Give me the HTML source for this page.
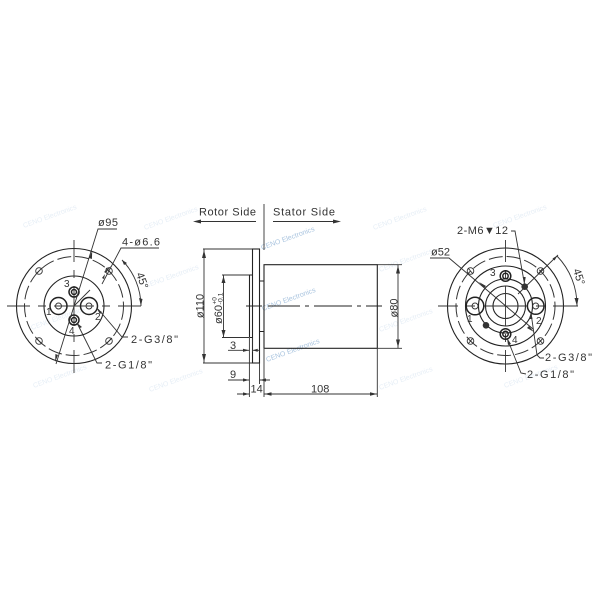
<!DOCTYPE html>
<html><head><meta charset="utf-8"><style>
html,body{margin:0;padding:0;background:#fff}
svg{display:block;filter:blur(.35px)}
.l{fill:none;stroke:#333;stroke-width:.9}
.k{fill:none;stroke:#222;stroke-width:1.1}
.p{fill:none;stroke:#222;stroke-width:1.5}
.d{fill:none;stroke:#333;stroke-width:1;stroke-dasharray:14 4}
.a{fill:#333;stroke:none}
text{font-family:"Liberation Sans",sans-serif;fill:#333}
.t{font-size:11px}
.n{font-size:10px}
.w{font-size:7px;fill:#e6eef6}
.b{font-size:7px;fill:#a9c4df}
</style></head><body>
<svg width="600" height="600" viewBox="0 0 600 600" xmlns="http://www.w3.org/2000/svg">
<!-- watermarks -->
<g>
<text class="w" transform="translate(24,228) rotate(-20)">CENO Electronics</text>
<text class="w" transform="translate(145,230) rotate(-20)">CENO Electronics</text>
<text class="w" transform="translate(146,288) rotate(-20)">CENO Electronics</text>
<text class="w" transform="translate(32,330) rotate(-20)">CENO Electronics</text>
<text class="w" transform="translate(150,392) rotate(-20)">CENO Electronics</text>
<text class="w" transform="translate(34,388) rotate(-20)">CENO Electronics</text>
<text class="w" transform="translate(374,230) rotate(-20)">CENO Electronics</text>
<text class="w" transform="translate(494,228) rotate(-20)">CENO Electronics</text>
<text class="w" transform="translate(380,272) rotate(-20)">CENO Electronics</text>
<text class="w" transform="translate(380,332) rotate(-20)">CENO Electronics</text>
<text class="w" transform="translate(380,390) rotate(-20)">CENO Electronics</text>
<text class="w" transform="translate(505,388) rotate(-20)">CENO Electronics</text>
<text class="b" transform="translate(262,250) rotate(-20)">CENO Electronics</text>
<text class="b" transform="translate(263,311) rotate(-20)">CENO Electronics</text>
<text class="b" transform="translate(267,362) rotate(-20)">CENO Electronics</text>
</g>

<!-- LEFT VIEW -->
<g>
<circle class="k" cx="74" cy="306" r="57.5"/>
<circle class="d" cx="74" cy="306" r="49.5"/>
<circle class="k" cx="74" cy="306" r="30"/>
<path class="l" d="M7 306H30M38 306H46M54 306H94M102 306H110M118 306H141M74 240V262M74 270V278M74 286V326M74 334V342M74 350V373"/>
<g class="l">
<circle cx="39" cy="271" r="3.3"/><circle cx="109" cy="271" r="3.3"/><circle cx="39" cy="341" r="3.3"/><circle cx="109" cy="341" r="3.3"/>
<path d="M36 274L42 268M106 268L112 274M36 338L42 344M106 344L112 338"/>
</g>
<g class="p">
<circle cx="58.500" cy="306" r="8.500"/>
<circle cx="89" cy="306" r="8.500"/>
<circle cx="74" cy="292" r="5"/><circle cx="74" cy="292" r="2.500"/>
<circle cx="74" cy="320" r="5"/><circle cx="74" cy="320" r="2.500"/>
</g>
<g class="l"><circle cx="58.500" cy="306" r="3"/><circle cx="89" cy="306" r="3"/></g>
<!-- leaders -->
<path class="l" d="M117 229H98L56 364M159 248H121L102 284M98 309L122 337H128M77 323L97 363H102M74 306L90 290"/>
<path class="l" d="M122 260A67 67 0 0 1 141 306"/>
<path class="a" d="M89 258l3.200-7-.3 8zM58 355l-2.800 7 .2-8zM141 306l-2-8 3.500 1zM122 260l5 3-3 2zM111 266l-5 7-2-1zM105 274l-1 5-2-1zM97 309l5 3-2 2zM77 323l5 4-2 1z"/>
<text class="t" x="98" y="226" textLength="20" lengthAdjust="spacing">ø95</text>
<text class="t" x="122" y="245.500" textLength="38" lengthAdjust="spacing">4-ø6.6</text>
<text class="t" x="131" y="343" textLength="47" lengthAdjust="spacing">2-G3/8"</text>
<text class="t" x="105" y="368.500" textLength="47" lengthAdjust="spacing">2-G1/8"</text>
<text class="t" transform="translate(136,274) rotate(70)">45°</text>
<text class="n" x="64" y="287">3</text>
<text class="n" x="46" y="315">1</text>
<text class="n" x="95" y="320">2</text>
<text class="n" x="69" y="334">4</text>
</g>

<!-- MIDDLE VIEW -->
<g>
<text class="t" x="199" y="215.500" textLength="57" lengthAdjust="spacing">Rotor Side</text>
<text class="t" x="273" y="215.500" textLength="62" lengthAdjust="spacing">Stator Side</text>
<path class="l" d="M200 221.500H256M273 221.500H334"/>
<path class="a" d="M193 221.500l8-2v4zM341 221.500l-8-2v4z"/>
<path class="l" d="M264 204V250"/>
<rect class="k" x="252.500" y="249" width="7" height="114"/>
<rect class="k" x="264" y="264.700" width="113.300" height="83.600"/>
<path class="k" d="M249.500 337.500V275H252.500M249.500 337.500H252.500M259.500 281H264M259.500 331.500H264"/>
<path class="k" d="M246 306H262M268 306H300M305 306H309M314 306H352M357 306H361M366 306H382" stroke-width=".9"/>
<!-- dims -->
<path class="l" d="M203 249H252M203 363H252M204 249V363M222 275H249M222 337.500H249M223.500 275V337.500M377 264.700H402M377 348.300H402M398 264.700V348.300"/>
<path class="l" d="M249.400 338V397M252.500 338V352M259.500 363V384M264 349V397M377.300 349V397"/>
<path class="l" d="M228 350.300H249M252.500 350.300H260M228 380H249M259.500 380H270M237 394H249M264 394H377"/>
<path class="a" d="M204 250l-2 8h4zM204 362l-2-8h4zM223.500 276l-2 7h4zM223.500 337l-2-7h4zM398 265.500l-2 8h4zM398 347.500l-2-8h4zM249 350.300l-6-1.600v3.200zM252.700 350.300l5-1.600v3.200zM249 380l-6-1.600v3.200zM260 380l6-1.600v3.200zM249 394l-6-1.600v3.200zM264.500 394l7-1.800v3.600zM377 394l-7-1.800v3.600z"/>
<text class="t" text-anchor="middle" transform="translate(203.500,306) rotate(-90)">ø110</text>
<text class="t" transform="translate(222,324) rotate(-90)" textLength="19" lengthAdjust="spacingAndGlyphs">ø60</text>
<text font-size="6.500" transform="translate(216.500,304.500) rotate(-90)">+0</text>
<text font-size="6.500" transform="translate(222.500,304.500) rotate(-90)" textLength="12" lengthAdjust="spacingAndGlyphs">-0.1</text>
<text class="t" text-anchor="middle" transform="translate(397.500,308) rotate(-90)">ø80</text>
<text class="t" x="230" y="349">3</text>
<text class="t" x="230" y="378">9</text>
<text class="t" x="250.500" y="392.500">14</text>
<text class="t" x="311" y="392.500">108</text>
</g>

<!-- RIGHT VIEW -->
<g>
<circle class="k" cx="505.500" cy="306" r="58"/>
<circle class="d" cx="505.500" cy="306" r="49.500"/>
<circle class="k" cx="505.500" cy="306" r="40"/>
<circle class="k" cx="505.500" cy="306" r="27"/>
<circle class="k" cx="505.500" cy="306" r="20"/>
<circle class="k" cx="505.500" cy="306" r="12.500"/>
<path class="l" d="M438 306H458M466 306H475M483 306H528M536 306H545M553 306H578M505.500 240V262M505.500 270V278M505.500 286V326M505.500 334V342M505.500 350V372"/>
<g class="l">
<circle cx="470.500" cy="271" r="3.300"/><circle cx="540.500" cy="271" r="3.300"/><circle cx="470.500" cy="341" r="3.300"/><circle cx="540.500" cy="341" r="3.300"/>
<path d="M468 344L473 338M538 338L543 344M468 268L473 274M538 274L543 268"/>
</g>
<g class="p">
<circle cx="475" cy="306" r="8.800"/>
<circle cx="535.700" cy="306" r="8.300"/>
<circle cx="505.500" cy="276" r="5.300"/><circle cx="505.500" cy="276" r="2.700"/>
<circle cx="505.500" cy="334" r="5.300"/><circle cx="505.500" cy="334" r="2.700"/>
</g>
<g class="l"><circle cx="475" cy="306" r="3"/><circle cx="535.700" cy="306" r="3"/></g>
<circle cx="524.700" cy="286.700" r="3.300" fill="#333"/>
<circle cx="486" cy="325.300" r="3.300" fill="#333"/>
<path class="l" d="M430 258H449L533 329M511 231H515L524.500 284M518 294L558 255M531 313L537 355L540 358H544M507 338L521 373L526 374"/>
<path class="l" d="M557 256A71 71 0 0 1 577 306"/>
<path class="a" d="M484 288l-5-6 7 4zM529 326l5 6-7-4zM524.700 283l-2-6 3 0zM531 312l-2 7 3.500 0zM507 338l1 7 3-1zM557.500 255.500l-5 3 2 2zM577 306l-2.500-8 4 0z"/>
<text class="t" x="457" y="234" textLength="51" lengthAdjust="spacing">2-M6▼12</text>
<text class="t" x="431" y="255.500" textLength="19" lengthAdjust="spacing">ø52</text>
<text class="t" x="545" y="361" textLength="47" lengthAdjust="spacing">2-G3/8"</text>
<text class="t" x="527" y="378" textLength="47" lengthAdjust="spacing">2-G1/8"</text>
<text class="t" transform="translate(573,270) rotate(72)">45°</text>
<text class="n" x="490" y="276">3</text>
<text class="n" x="467" y="322">1</text>
<text class="n" x="536" y="324">2</text>
<text class="n" x="512" y="343">4</text>
</g>
</svg>
</body></html>
